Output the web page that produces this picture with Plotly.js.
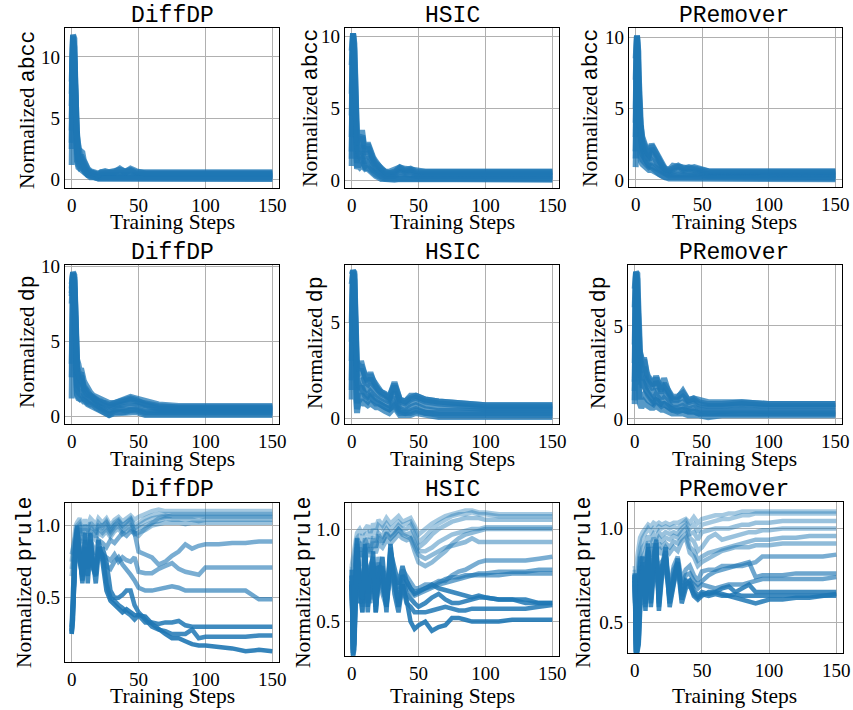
<!DOCTYPE html>
<html>
<head>
<meta charset="utf-8">
<script src="https://cdn.plot.ly/plotly-3.0.1.min.js"></script>
<style>html,body{margin:0;padding:0;background:#fff;}#chart{width:853px;height:710px;}</style>
</head>
<body>
<div id="chart"></div>
<script>
// ---------- DATA ----------
const methods = ["DiffDP", "HSIC", "PRemover"];
const metrics = ["abcc", "dp", "prule"];
const xTicks = [0, 50, 100, 150];

const stepsA = [0,1,2,3,4,5,6,7,8,9,10,12,14,16,18,20,22,25,28,32,36,40,44,48,55,65,80,100,125,150];
const stepsB = [0,1,2,3,4,6,8,10,12,14,16,18,20,23,26,29,32,35,38,41,44,47,50,55,60,65,70,75,80,85,90,95,100,110,120,130,140,150];

const abccDiffDP = [
 [6.0,11.8,11.5,4.0,3.8,2.5,2.0,2.3,2.2,1.6,1.3,0.9,0.7,0.6,0.5,0.5,0.6,0.7,0.6,0.7,0.8,0.7,0.8,0.6,0.6,0.6,0.6,0.6,0.6,0.6],
 [8.0,11.6,10.8,3.5,3.0,2.0,1.8,2.0,1.7,1.4,1.1,0.8,0.6,0.5,0.4,0.4,0.5,0.5,0.6,0.5,0.6,0.6,0.7,0.5,0.5,0.5,0.5,0.5,0.5,0.5],
 [4.0,11.0,9.5,3.0,2.5,1.6,1.4,1.6,1.3,1.1,0.9,0.6,0.5,0.4,0.3,0.3,0.4,0.4,0.5,0.4,0.5,0.5,0.5,0.4,0.4,0.4,0.4,0.4,0.4,0.4],
 [2.5,10.5,8.0,2.6,2.2,1.4,1.2,1.3,1.1,0.9,0.7,0.5,0.4,0.3,0.3,0.2,0.3,0.3,0.4,0.3,0.4,0.4,0.4,0.3,0.3,0.3,0.3,0.3,0.3,0.3],
 [1.2,9.0,6.5,2.2,1.8,1.2,1.0,1.1,0.9,0.7,0.6,0.4,0.3,0.3,0.2,0.2,0.2,0.2,0.3,0.2,0.3,0.3,0.3,0.2,0.2,0.2,0.2,0.2,0.2,0.2],
 [3.0,11.3,7.0,2.0,1.5,1.0,0.9,0.9,0.8,0.6,0.5,0.3,0.2,0.2,0.1,0.1,0.1,0.1,0.2,0.1,0.2,0.2,0.2,0.1,0.1,0.1,0.1,0.1,0.1,0.1],
 [5.0,11.7,10.0,3.8,3.5,2.8,1.5,1.4,1.0,0.8,0.6,0.4,0.3,0.2,0.1,0.1,0.1,0.1,0.1,0.1,0.1,0.1,0.1,0.1,0.05,0.05,0.05,0.05,0.05,0.05],
 [7.0,11.8,9.0,3.2,2.8,1.8,1.6,1.8,1.5,1.2,1.0,0.7,0.6,0.5,0.4,0.4,0.6,0.6,0.7,0.6,0.9,0.6,0.9,0.7,0.5,0.5,0.5,0.5,0.5,0.5]
];
const abccHSIC = [
 [6.0,10.2,9.0,3.0,2.6,3.0,2.8,3.3,3.3,2.6,2.2,2.6,2.0,1.6,1.3,1.0,0.8,0.6,0.5,0.6,0.9,0.7,0.8,0.6,0.6,0.6,0.6,0.6,0.6,0.6],
 [8.0,10.1,8.0,2.5,2.0,2.6,2.2,2.8,3.0,2.2,1.8,2.3,1.8,1.4,1.1,0.9,0.7,0.5,0.5,0.5,0.8,0.6,0.7,0.5,0.5,0.5,0.5,0.5,0.5,0.5],
 [3.0,9.5,6.0,2.0,1.5,2.2,1.8,2.2,2.4,1.8,1.5,2.0,1.5,1.2,0.9,0.7,0.6,0.4,0.4,0.4,0.6,0.5,0.6,0.4,0.4,0.4,0.4,0.4,0.4,0.4],
 [1.5,8.5,4.0,1.5,1.2,1.8,1.5,1.8,2.0,1.5,1.2,1.6,1.2,1.0,0.8,0.6,0.5,0.3,0.3,0.3,0.5,0.4,0.4,0.3,0.3,0.3,0.3,0.3,0.3,0.3],
 [1.0,7.0,2.5,1.0,0.9,1.3,1.2,1.4,1.5,1.2,1.0,1.2,0.9,0.7,0.6,0.4,0.3,0.2,0.2,0.2,0.3,0.3,0.3,0.2,0.2,0.2,0.2,0.2,0.2,0.2],
 [2.0,10.0,5.0,1.2,0.8,1.0,0.9,1.0,1.1,0.9,0.8,0.9,0.7,0.5,0.4,0.3,0.2,0.1,0.1,0.1,0.2,0.2,0.2,0.1,0.1,0.1,0.1,0.1,0.1,0.1],
 [4.5,10.2,7.0,2.8,2.4,2.0,1.6,1.5,1.4,1.1,0.9,0.8,0.6,0.4,0.3,0.2,0.1,0.1,0.05,0.05,0.1,0.1,0.1,0.05,0.05,0.05,0.05,0.05,0.05,0.05],
 [9.0,10.2,9.5,3.2,2.8,2.8,2.5,3.0,3.1,2.4,2.0,2.5,1.9,1.5,1.2,1.0,0.8,0.6,0.6,0.7,0.9,0.8,0.8,0.7,0.6,0.6,0.6,0.6,0.6,0.6]
];
const abccPRemover = [
 [7.0,10.1,8.0,3.8,3.6,3.0,2.6,2.4,2.2,2.0,1.9,2.5,2.2,1.8,1.4,1.1,0.8,0.7,0.8,1.0,0.8,0.9,0.8,0.7,0.6,0.6,0.6,0.6,0.6,0.6],
 [5.0,10.0,6.5,3.4,3.2,2.6,2.3,2.2,2.0,1.8,1.7,2.2,1.9,1.5,1.2,0.9,0.7,0.6,0.7,0.9,0.7,0.8,0.7,0.6,0.5,0.5,0.5,0.5,0.5,0.5],
 [3.0,9.5,5.0,3.0,2.8,2.2,2.0,1.9,1.7,1.5,1.4,1.8,1.6,1.2,1.0,0.8,0.6,0.5,0.6,0.7,0.6,0.6,0.6,0.5,0.4,0.4,0.4,0.4,0.4,0.4],
 [1.5,8.0,3.5,2.5,2.2,1.8,1.6,1.5,1.4,1.2,1.1,1.4,1.2,1.0,0.8,0.6,0.5,0.4,0.4,0.5,0.5,0.5,0.5,0.4,0.3,0.3,0.3,0.3,0.3,0.3],
 [0.9,6.0,2.5,2.0,1.8,1.4,1.3,1.2,1.1,1.0,0.9,1.0,0.9,0.7,0.6,0.5,0.4,0.3,0.3,0.3,0.3,0.3,0.3,0.3,0.2,0.2,0.2,0.2,0.2,0.2],
 [2.0,10.0,4.0,1.5,1.3,1.1,1.0,0.9,0.8,0.7,0.7,0.7,0.6,0.5,0.4,0.3,0.2,0.2,0.2,0.2,0.2,0.2,0.2,0.1,0.1,0.1,0.1,0.1,0.1,0.1],
 [4.0,10.1,7.0,3.6,3.0,2.4,1.8,1.6,1.4,1.2,1.0,0.9,0.7,0.5,0.4,0.3,0.2,0.1,0.1,0.1,0.1,0.1,0.1,0.05,0.05,0.05,0.05,0.05,0.05,0.05],
 [8.5,10.1,9.0,3.7,3.8,2.8,2.5,2.3,2.1,1.9,1.8,2.4,2.1,1.7,1.3,1.0,0.8,0.7,1.0,0.9,0.9,0.8,0.9,0.8,0.6,0.6,0.6,0.6,0.6,0.6]
];
const dpDiffDP = [
 [8.5,9.6,9.4,4.0,3.8,3.5,3.0,3.2,2.6,2.4,2.2,1.8,1.6,1.4,1.3,1.2,1.1,1.0,0.9,0.9,1.0,1.1,1.3,1.2,1.0,0.8,0.7,0.7,0.7,0.7],
 [8.0,9.5,9.0,3.6,3.3,3.0,2.8,2.9,2.2,2.0,1.9,1.6,1.4,1.3,1.2,1.0,0.9,0.9,0.8,0.8,0.9,1.0,1.1,1.0,0.9,0.7,0.6,0.6,0.6,0.6],
 [2.6,9.3,8.0,3.0,2.8,2.6,2.4,2.5,1.9,1.8,1.6,1.4,1.3,1.2,1.0,0.9,0.8,0.7,0.6,0.7,0.8,0.8,0.9,0.9,0.7,0.5,0.5,0.5,0.5,0.5],
 [1.2,9.0,6.0,2.5,2.2,2.0,1.9,2.0,1.6,1.5,1.4,1.2,1.1,1.0,0.8,0.7,0.6,0.5,0.4,0.5,0.6,0.6,0.7,0.7,0.5,0.4,0.4,0.4,0.4,0.4],
 [8.2,9.6,7.0,2.2,1.8,1.6,1.5,1.6,1.3,1.2,1.2,1.0,1.0,0.9,0.7,0.6,0.5,0.4,0.2,0.4,0.5,0.4,0.5,0.5,0.3,0.3,0.3,0.3,0.3,0.3],
 [7.5,9.2,8.5,2.0,1.5,1.3,1.2,1.3,1.2,1.1,1.0,0.9,0.8,0.8,0.6,0.5,0.4,0.3,0.1,0.3,0.3,0.3,0.4,0.4,0.2,0.2,0.2,0.2,0.2,0.2],
 [3.5,9.0,5.0,1.8,1.4,1.2,1.2,1.2,1.1,1.0,1.0,0.8,0.7,0.7,0.5,0.4,0.3,0.2,0.1,0.2,0.2,0.2,0.3,0.3,0.1,0.1,0.1,0.1,0.1,0.1],
 [8.8,9.5,9.2,3.3,3.0,2.8,2.6,2.7,2.0,1.9,1.8,1.5,1.4,1.2,1.1,1.0,1.0,0.8,0.7,0.9,1.0,1.1,1.2,1.1,0.8,0.6,0.6,0.6,0.6,0.6]
];
const dpHSIC = [
 [5.0,7.7,7.6,3.2,2.8,3.0,2.6,3.0,2.7,2.4,2.2,2.0,2.4,2.0,1.8,1.5,1.4,1.3,1.1,1.9,1.0,0.9,1.1,1.2,1.0,0.9,0.8,0.7,0.7,0.7],
 [7.0,7.6,7.2,2.8,2.2,2.6,2.3,2.6,2.4,2.1,1.9,1.8,2.1,1.8,1.6,1.4,1.3,1.2,1.0,1.7,0.9,0.8,1.0,1.1,0.9,0.8,0.7,0.6,0.6,0.6],
 [3.0,7.5,6.0,2.2,1.5,2.0,1.8,2.1,2.0,1.8,1.6,1.5,1.8,1.5,1.3,1.2,1.1,1.0,0.9,1.4,0.7,0.6,0.8,0.9,0.7,0.6,0.6,0.5,0.5,0.5],
 [1.5,7.0,4.0,1.6,0.8,1.5,1.4,1.6,1.6,1.4,1.3,1.2,1.4,1.2,1.1,1.0,0.9,0.8,0.7,1.1,0.5,0.4,0.6,0.7,0.5,0.4,0.4,0.4,0.4,0.4],
 [1.0,6.0,2.5,1.2,0.3,1.0,1.0,1.2,1.2,1.1,1.0,0.9,1.1,0.9,0.8,0.8,0.7,0.6,0.5,0.8,0.4,0.3,0.4,0.5,0.3,0.3,0.3,0.3,0.3,0.3],
 [2.0,7.6,5.0,1.0,0.5,0.8,0.8,0.9,0.9,0.8,0.8,0.7,0.8,0.7,0.6,0.6,0.5,0.4,0.3,0.6,0.2,0.2,0.2,0.3,0.2,0.1,0.1,0.1,0.1,0.1],
 [4.0,7.7,6.5,2.5,2.0,1.8,1.6,1.6,1.5,1.3,1.2,1.1,1.2,1.0,0.9,0.8,0.7,0.6,0.5,0.7,0.3,0.3,0.3,0.4,0.3,0.2,0.2,0.2,0.2,0.2],
 [7.5,7.7,7.5,3.1,2.6,2.9,2.5,2.8,2.6,2.3,2.1,1.9,2.3,1.9,1.7,1.5,1.4,1.3,1.1,1.8,1.0,0.9,1.2,1.2,1.0,0.9,0.8,0.7,0.7,0.7]
];
const dpPRemover = [
 [6.0,7.9,7.5,3.9,3.6,3.3,2.8,3.2,2.6,2.4,2.2,2.0,1.8,2.3,2.0,1.6,1.9,1.6,1.2,1.2,1.4,1.0,1.1,0.9,0.8,0.8,0.9,0.8,0.8,0.8],
 [4.0,7.8,6.5,3.5,3.2,3.0,2.5,2.8,2.3,2.1,2.0,1.8,1.6,2.0,1.8,1.4,1.7,1.4,1.0,1.0,1.2,0.9,1.0,0.8,0.7,0.7,0.8,0.7,0.7,0.7],
 [2.0,7.5,5.0,3.0,2.6,2.5,2.1,2.3,2.0,1.8,1.7,1.5,1.3,1.6,1.4,1.1,1.4,1.1,0.8,0.8,0.9,0.7,0.8,0.6,0.6,0.6,0.6,0.6,0.6,0.6],
 [1.0,6.5,3.5,2.2,2.0,2.0,1.7,1.8,1.6,1.4,1.4,1.2,1.0,1.3,1.1,0.9,1.1,0.8,0.6,0.6,0.7,0.5,0.6,0.5,0.4,0.4,0.5,0.4,0.4,0.4],
 [0.8,5.0,2.0,1.5,1.2,1.2,1.2,1.3,1.2,1.0,1.0,0.9,0.8,1.0,0.8,0.7,0.8,0.6,0.5,0.4,0.5,0.4,0.4,0.3,0.3,0.3,0.3,0.3,0.3,0.3],
 [1.5,7.8,3.0,1.0,0.8,0.6,0.8,0.9,0.8,0.7,0.7,0.6,0.6,0.7,0.6,0.5,0.5,0.4,0.3,0.3,0.3,0.2,0.2,0.2,0.1,0.2,0.2,0.2,0.2,0.2],
 [3.0,7.9,6.0,3.2,2.4,2.2,1.8,1.8,1.6,1.4,1.3,1.1,0.9,1.0,0.9,0.8,0.8,0.6,0.5,0.5,0.5,0.4,0.4,0.3,0.3,0.3,0.3,0.3,0.3,0.3],
 [7.0,7.9,7.8,3.8,3.5,3.4,2.9,3.3,2.7,2.5,2.3,2.1,1.9,2.2,1.9,1.5,2.2,1.5,1.1,1.1,1.5,1.0,1.1,1.0,0.9,0.9,0.9,0.8,0.8,0.8]
];
const pruleDiffDP = [
 [0.75,0.85,0.95,1.0,1.02,1.05,1.0,1.04,1.0,1.05,1.03,1.0,1.05,1.02,1.05,1.0,1.04,1.06,1.03,1.05,1.07,1.04,1.06,1.08,1.1,1.11,1.1,1.1,1.1,1.1,1.1,1.1,1.1,1.1,1.1,1.1,1.1,1.1],
 [0.7,0.8,0.9,0.95,1.0,1.02,0.97,1.0,0.96,1.02,1.0,0.97,1.02,0.99,1.03,0.98,1.02,1.04,1.0,1.03,1.05,1.0,1.02,1.05,1.07,1.08,1.08,1.08,1.08,1.08,1.08,1.08,1.08,1.08,1.08,1.08,1.08,1.08],
 [0.65,0.75,0.85,0.92,0.97,1.0,0.93,0.98,0.93,0.99,0.97,0.94,1.0,0.97,1.0,0.96,1.0,1.02,0.98,1.0,1.03,0.98,1.0,1.03,1.05,1.06,1.07,1.06,1.06,1.06,1.06,1.06,1.06,1.06,1.06,1.06,1.06,1.06],
 [0.3,0.6,0.8,0.9,0.95,0.98,0.9,0.95,0.9,0.96,0.95,0.92,0.98,0.95,0.98,0.94,0.98,1.0,0.96,0.98,1.0,0.96,0.98,1.0,1.02,1.03,1.05,1.04,1.04,1.04,1.04,1.03,1.04,1.04,1.04,1.04,1.04,1.04],
 [0.28,0.5,0.75,0.88,0.93,0.96,0.88,0.92,0.87,0.93,0.92,0.9,0.95,0.93,0.96,0.92,0.96,0.98,0.94,0.96,0.98,0.94,0.95,0.97,1.0,1.01,1.02,1.02,1.02,1.01,1.02,1.02,1.02,1.02,1.02,1.02,1.02,1.02],
 [0.8,0.85,0.9,0.95,0.98,1.0,0.95,1.0,0.97,1.0,0.98,0.96,1.0,1.0,1.02,0.97,1.0,1.03,1.0,1.02,1.04,0.95,0.93,0.98,1.02,1.05,1.06,1.07,1.07,1.07,1.07,1.07,1.07,1.07,1.07,1.07,1.07,1.07],
 [0.3,0.6,0.8,0.9,0.95,0.9,0.75,0.85,0.8,0.9,0.85,0.8,0.9,0.88,0.85,0.9,0.88,0.92,0.95,0.93,0.96,0.95,0.82,0.8,0.78,0.73,0.75,0.79,0.82,0.87,0.84,0.86,0.87,0.87,0.88,0.88,0.89,0.89],
 [0.27,0.5,0.75,0.85,0.9,0.85,0.7,0.8,0.72,0.85,0.8,0.72,0.82,0.8,0.78,0.76,0.8,0.75,0.78,0.76,0.75,0.78,0.68,0.67,0.67,0.7,0.72,0.74,0.7,0.68,0.67,0.66,0.71,0.71,0.71,0.71,0.71,0.71],
 [0.27,0.45,0.7,0.85,0.9,0.82,0.65,0.78,0.7,0.8,0.75,0.7,0.8,0.78,0.72,0.7,0.75,0.78,0.73,0.7,0.66,0.62,0.57,0.55,0.55,0.56,0.57,0.58,0.57,0.55,0.55,0.55,0.55,0.55,0.55,0.55,0.49,0.49],
 [0.25,0.4,0.7,0.9,0.95,0.8,0.6,0.85,0.65,0.9,0.7,0.65,0.85,0.8,0.6,0.5,0.48,0.45,0.43,0.4,0.38,0.35,0.38,0.33,0.33,0.32,0.33,0.33,0.34,0.31,0.3,0.3,0.3,0.3,0.3,0.3,0.3,0.3],
 [0.25,0.35,0.65,0.95,1.0,0.75,0.65,0.95,0.6,0.85,0.75,0.6,0.8,0.85,0.75,0.55,0.5,0.5,0.52,0.55,0.55,0.45,0.4,0.35,0.3,0.28,0.27,0.25,0.25,0.25,0.28,0.22,0.23,0.23,0.23,0.23,0.24,0.24],
 [0.26,0.4,0.6,0.85,0.98,0.8,0.62,0.9,0.7,0.95,0.72,0.66,0.9,0.75,0.55,0.48,0.45,0.42,0.4,0.42,0.4,0.38,0.38,0.37,0.32,0.28,0.25,0.22,0.22,0.2,0.18,0.17,0.17,0.16,0.15,0.13,0.14,0.13]
];
const pruleHSIC = [
 [0.8,0.85,0.9,0.95,0.98,1.0,0.97,1.0,1.02,0.98,1.03,1.0,1.05,1.02,1.06,1.03,1.05,1.07,1.04,1.05,1.06,1.02,0.97,1.0,1.03,1.05,1.07,1.08,1.09,1.1,1.1,1.09,1.09,1.08,1.08,1.08,1.08,1.08],
 [0.75,0.8,0.85,0.9,0.95,0.97,0.93,0.97,0.98,0.95,1.0,0.97,1.02,1.0,1.03,1.0,1.02,1.04,1.02,1.03,1.04,1.0,0.93,0.96,1.0,1.03,1.05,1.07,1.08,1.08,1.09,1.08,1.08,1.07,1.07,1.07,1.07,1.07],
 [0.7,0.5,0.7,0.85,0.9,0.93,0.88,0.93,0.95,0.9,0.96,0.93,0.98,0.96,1.0,0.97,0.99,1.02,1.0,1.0,1.02,0.97,0.9,0.93,0.97,1.0,1.02,1.04,1.05,1.06,1.06,1.06,1.05,1.05,1.05,1.05,1.05,1.05],
 [0.75,0.45,0.6,0.8,0.85,0.9,0.85,0.9,0.92,0.87,0.93,0.9,0.95,0.93,0.97,0.95,0.97,1.0,0.98,0.97,0.98,0.93,0.88,0.88,0.9,0.93,0.95,0.97,0.98,0.99,1.0,1.0,1.01,1.01,1.01,1.01,1.01,1.01],
 [0.7,0.4,0.55,0.75,0.85,0.88,0.8,0.88,0.9,0.85,0.9,0.87,0.92,0.9,0.94,0.92,0.95,0.97,0.95,0.94,0.95,0.9,0.86,0.84,0.86,0.88,0.9,0.91,0.92,0.93,0.95,0.93,0.93,0.93,0.93,0.93,0.93,0.93],
 [0.8,0.6,0.75,0.9,0.95,0.92,0.85,0.95,0.9,0.88,0.95,0.9,0.97,0.93,0.98,0.95,0.98,1.0,0.97,0.96,0.95,0.88,0.82,0.8,0.82,0.85,0.88,0.92,0.95,0.97,0.98,0.99,1.0,1.0,1.0,1.0,1.0,1.0],
 [0.75,0.35,0.5,0.85,0.9,0.75,0.6,0.85,0.7,0.65,0.8,0.6,0.85,0.7,0.6,0.8,0.75,0.7,0.78,0.75,0.72,0.68,0.68,0.7,0.7,0.72,0.72,0.75,0.77,0.78,0.8,0.82,0.83,0.83,0.83,0.83,0.84,0.85],
 [0.7,0.33,0.45,0.8,0.85,0.7,0.55,0.8,0.65,0.6,0.75,0.58,0.8,0.65,0.58,0.75,0.72,0.65,0.72,0.7,0.66,0.64,0.65,0.66,0.68,0.7,0.71,0.72,0.73,0.74,0.75,0.76,0.76,0.77,0.77,0.77,0.78,0.78],
 [0.72,0.34,0.5,0.82,0.88,0.72,0.58,0.82,0.68,0.62,0.78,0.6,0.82,0.68,0.6,0.78,0.74,0.68,0.75,0.72,0.68,0.66,0.67,0.68,0.69,0.71,0.73,0.74,0.74,0.75,0.75,0.75,0.75,0.75,0.76,0.76,0.76,0.76],
 [0.7,0.32,0.4,0.75,0.95,0.7,0.55,0.9,0.6,0.8,0.85,0.55,0.75,0.8,0.55,0.9,0.7,0.6,0.75,0.65,0.62,0.6,0.58,0.6,0.63,0.65,0.62,0.6,0.6,0.61,0.62,0.63,0.63,0.62,0.62,0.62,0.6,0.6],
 [0.75,0.31,0.35,0.7,0.9,0.65,0.6,0.85,0.55,0.75,0.8,0.58,0.7,0.75,0.58,0.85,0.65,0.55,0.7,0.6,0.58,0.55,0.55,0.55,0.56,0.57,0.58,0.57,0.56,0.56,0.57,0.57,0.57,0.57,0.57,0.57,0.58,0.59],
 [0.72,0.33,0.38,0.72,0.92,0.6,0.65,0.92,0.58,0.7,0.88,0.55,0.72,0.85,0.6,0.92,0.72,0.58,0.7,0.62,0.5,0.46,0.48,0.5,0.45,0.47,0.48,0.52,0.52,0.51,0.5,0.5,0.5,0.5,0.51,0.51,0.51,0.51],
 [0.78,0.35,0.45,0.8,0.88,0.75,0.62,0.88,0.65,0.78,0.82,0.62,0.8,0.78,0.62,0.88,0.78,0.7,0.8,0.72,0.68,0.65,0.66,0.68,0.7,0.68,0.67,0.66,0.65,0.64,0.63,0.64,0.63,0.62,0.62,0.6,0.6,0.6]
];
const prulePRemover = [
 [0.8,0.75,0.85,0.9,0.95,0.98,1.0,1.02,1.01,1.03,1.02,1.03,1.02,1.03,1.02,1.03,1.03,1.04,1.05,1.03,1.06,1.03,1.05,1.06,1.07,1.07,1.08,1.08,1.09,1.09,1.09,1.09,1.09,1.09,1.09,1.09,1.09,1.09],
 [0.78,0.6,0.75,0.85,0.9,0.95,0.97,1.0,0.98,1.0,0.99,1.01,1.0,1.01,1.0,1.01,1.0,1.02,1.04,1.0,1.02,0.98,1.02,1.03,1.04,1.05,1.05,1.06,1.07,1.07,1.08,1.08,1.08,1.08,1.08,1.08,1.08,1.08],
 [0.75,0.5,0.65,0.8,0.85,0.9,0.92,0.96,0.94,0.97,0.95,0.98,0.96,0.98,0.97,0.98,0.97,1.0,1.02,0.97,0.98,0.94,0.98,0.99,1.0,1.0,1.0,1.01,1.02,1.02,1.03,1.03,1.03,1.04,1.04,1.04,1.04,1.04],
 [0.72,0.45,0.6,0.75,0.82,0.85,0.88,0.93,0.9,0.95,0.92,0.95,0.93,0.95,0.94,0.96,0.95,0.98,1.0,0.95,0.93,0.88,0.9,0.95,0.97,0.94,0.95,0.96,0.97,0.98,0.98,0.99,0.99,1.0,1.0,1.0,1.0,1.0],
 [0.76,0.4,0.55,0.7,0.8,0.85,0.82,0.9,0.85,0.92,0.88,0.92,0.9,0.92,0.9,0.93,0.92,0.95,0.97,0.9,0.88,0.83,0.85,0.87,0.88,0.89,0.9,0.91,0.92,0.93,0.94,0.94,0.94,0.95,0.95,0.96,0.96,0.96],
 [0.74,0.38,0.5,0.65,0.78,0.8,0.78,0.88,0.8,0.9,0.85,0.9,0.86,0.9,0.87,0.9,0.88,0.93,0.95,0.87,0.85,0.8,0.82,0.84,0.86,0.88,0.89,0.9,0.9,0.9,0.91,0.91,0.91,0.92,0.92,0.92,0.92,0.92],
 [0.75,0.35,0.45,0.6,0.85,0.75,0.7,0.85,0.72,0.8,0.88,0.7,0.82,0.85,0.68,0.8,0.85,0.72,0.78,0.8,0.75,0.72,0.77,0.78,0.78,0.8,0.8,0.8,0.8,0.81,0.82,0.85,0.85,0.85,0.85,0.85,0.85,0.86],
 [0.72,0.34,0.42,0.55,0.8,0.72,0.65,0.82,0.68,0.78,0.85,0.66,0.8,0.82,0.65,0.78,0.82,0.7,0.75,0.76,0.72,0.7,0.72,0.75,0.77,0.78,0.79,0.8,0.81,0.82,0.74,0.75,0.75,0.75,0.76,0.76,0.76,0.76],
 [0.7,0.33,0.4,0.5,0.78,0.7,0.6,0.8,0.65,0.75,0.82,0.62,0.78,0.8,0.62,0.75,0.8,0.68,0.72,0.72,0.7,0.68,0.7,0.69,0.68,0.69,0.7,0.7,0.7,0.71,0.72,0.73,0.73,0.73,0.73,0.73,0.73,0.74],
 [0.76,0.33,0.35,0.4,0.6,0.85,0.58,0.9,0.6,0.82,0.92,0.58,0.75,0.88,0.6,0.72,0.82,0.62,0.7,0.72,0.67,0.64,0.66,0.65,0.66,0.68,0.69,0.66,0.68,0.7,0.66,0.66,0.66,0.66,0.66,0.66,0.66,0.66],
 [0.74,0.32,0.34,0.38,0.55,0.8,0.56,0.88,0.58,0.78,0.9,0.56,0.72,0.86,0.58,0.7,0.8,0.6,0.68,0.7,0.64,0.62,0.64,0.66,0.66,0.65,0.64,0.63,0.62,0.61,0.6,0.61,0.62,0.62,0.63,0.63,0.64,0.65],
 [0.75,0.34,0.36,0.42,0.65,0.82,0.6,0.92,0.62,0.85,0.94,0.6,0.78,0.9,0.62,0.74,0.84,0.64,0.72,0.7,0.65,0.63,0.65,0.64,0.65,0.64,0.64,0.65,0.64,0.64,0.64,0.64,0.64,0.64,0.64,0.64,0.64,0.64]
];

// ---------- STYLE / LAYOUT ----------
const W = 853, H = 710;
const serif = "Liberation Serif, Times New Roman, serif";
const mono = "Liberation Mono, DejaVu Sans Mono, monospace";
const blue = [31, 119, 180];
const rowAlphaDense = 0.75;
const pruleAlphaDiffDP = [0.4,0.4,0.4,0.45,0.45,0.45,0.6,0.6,0.65,0.85,0.85,0.9];
const pruleAlphaHSIC = [0.4,0.4,0.45,0.45,0.5,0.5,0.6,0.65,0.65,0.85,0.85,0.9,0.85];
const prulePRemoverAlpha = [0.4,0.4,0.45,0.45,0.5,0.5,0.6,0.65,0.65,0.85,0.85,0.85];

const panelData = [
  [abccDiffDP, abccHSIC, abccPRemover],
  [dpDiffDP, dpHSIC, dpPRemover],
  [pruleDiffDP, pruleHSIC, prulePRemover]
];
const panelSteps = [stepsA, stepsA, stepsB];
const pruleAlphas = [pruleAlphaDiffDP, pruleAlphaHSIC, prulePRemoverAlpha];

// pixel boxes [x0, x1, ytop, ybottom]
const boxes = [
  [[65,279,28,188],[345,559,28,188],[629,842,28,187]],
  [[65,279,265,424],[345,559,265,424],[628,842,265,424]],
  [[65,279,503,662],[345,559,503,656],[628,843,502,653]]
];
const yRanges = [
  [[-0.68,12.36],[-0.53,10.57],[-0.49,10.63]],
  [[-0.5,10.07],[-0.27,7.99],[-0.27,8.27]],
  [[0.056,1.156],[0.314,1.141],[0.335,1.141]]
];
const yTickVals = [
  [[0,5,10],[0,5,10],[0,5,10]],
  [[0,5,10],[0,5],[0,5]],
  [[0.5,1.0],[0.5,1.0],[0.5,1.0]]
];
const titleY = [16, 253, 490];
const xTitleY = [222, 459, 696];
const titleX = [172, 452, 734];
const yTitlePos = [
  [[27,110],[310,108],[590,108]],
  [[27,342],[315,343],[598,343]],
  [[24,583],[303,583],[583,583]]
];

const traces = [];
const layout = {
  width: W, height: H,
  margin: {l:0, r:0, t:0, b:0},
  paper_bgcolor: "#fff", plot_bgcolor: "#fff",
  showlegend: false,
  annotations: []
};

let k = 0;
for (let r = 0; r < 3; r++) {
  for (let c = 0; c < 3; c++) {
    k++;
    const xa = "x" + (k === 1 ? "" : k), ya = "y" + (k === 1 ? "" : k);
    const xn = "xaxis" + (k === 1 ? "" : k), yn = "yaxis" + (k === 1 ? "" : k);
    const series = panelData[r][c];
    series.forEach((ys, i) => {
      const a = r === 2 ? pruleAlphas[c][i] : rowAlphaDense;
      traces.push({
        type: "scatter", mode: "lines",
        x: panelSteps[r], y: ys,
        xaxis: xa, yaxis: ya,
        line: {color: `rgba(${blue[0]},${blue[1]},${blue[2]},${a})`, width: r === 2 ? 4.5 : 6},
        hoverinfo: "skip"
      });
    });
    const b = boxes[r][c];
    const common = {
      showline: true, mirror: true, linecolor: "#000", linewidth: 1.1,
      showgrid: true, gridcolor: "#b0b0b0", gridwidth: 1,
      zeroline: false,
      ticks: "",
      tickfont: {family: serif, size: 19, color: "#000"},
      fixedrange: true
    };
    layout[xn] = Object.assign({}, common, {
      domain: [b[0]/W, b[1]/W],
      anchor: ya,
      range: [-5, 155],
      tickvals: xTicks,
      ticktext: xTicks.map(String)
    });
    const yt = yTickVals[r][c];
    layout[yn] = Object.assign({}, common, {
      domain: [1 - b[3]/H, 1 - b[2]/H],
      anchor: xa,
      range: yRanges[r][c],
      tickvals: yt,
      ticktext: yt.map(v => r === 2 ? v.toFixed(1) : String(v))
    });
    layout.annotations.push({
      xref: "paper", yref: "paper", x: titleX[c]/W, y: 1 - titleY[r]/H,
      xanchor: "center", yanchor: "middle", showarrow: false,
      text: methods[c], font: {family: mono, size: 23, color: "#000"}
    });
    layout.annotations.push({
      xref: "paper", yref: "paper", x: titleX[c]/W, y: 1 - xTitleY[r]/H,
      xanchor: "center", yanchor: "middle", showarrow: false,
      text: "Training Steps", font: {family: serif, size: 21.5, color: "#000"}
    });
    const p = yTitlePos[r][c];
    layout.annotations.push({
      xref: "paper", yref: "paper", x: p[0]/W, y: 1 - p[1]/H,
      xanchor: "center", yanchor: "middle", showarrow: false, textangle: -90,
      text: `Normalized <span style="font-family:${mono}">${metrics[r]}</span>`,
      font: {family: serif, size: 21.5, color: "#000"}
    });
  }
}

Plotly.newPlot("chart", traces, layout, {staticPlot: true, displayModeBar: false});
</script>
</body>
</html>
